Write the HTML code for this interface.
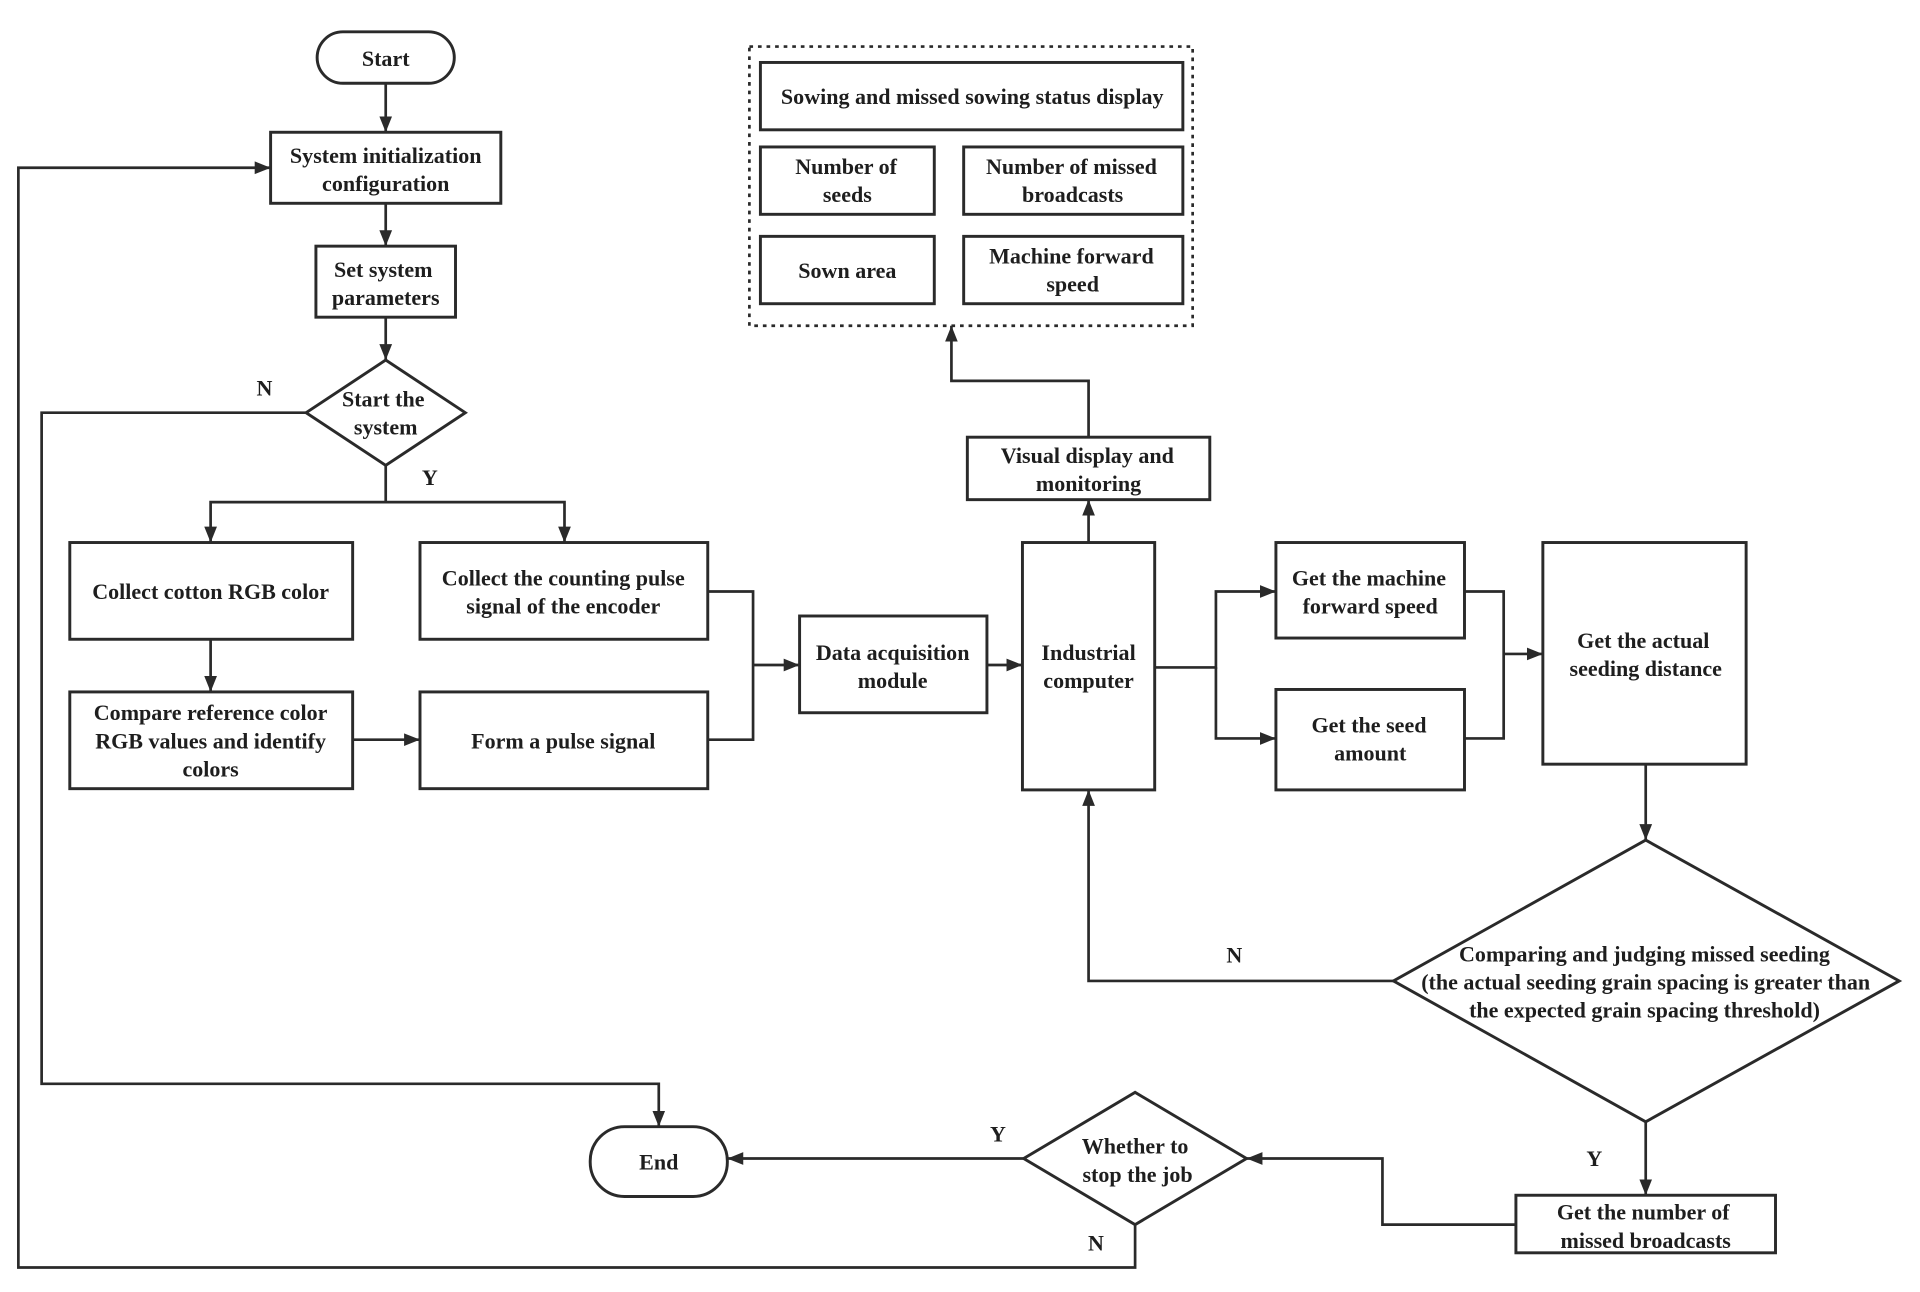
<!DOCTYPE html>
<html><head><meta charset="utf-8"><style>
html,body{margin:0;padding:0;background:#fff;}
svg{display:block;}
text{font-family:"Liberation Serif",serif;font-weight:bold;font-size:18px;fill:#1e1e1e;text-anchor:middle;}
.s{fill:#fff;stroke:#2a2a2a;stroke-width:2.4;}
.l{fill:none;stroke:#2a2a2a;stroke-width:2.2;}
</style></head><body>
<svg width="1920" height="1292" viewBox="0 0 1568 1055" preserveAspectRatio="none" xmlns="http://www.w3.org/2000/svg">
<defs>
<marker id="b" viewBox="0 0 10 10" refX="10" refY="5" markerWidth="13" markerHeight="13" orient="auto" markerUnits="userSpaceOnUse"><path d="M0,1L10,5L0,9z" fill="#2a2a2a"/></marker></defs>
<rect width="1568" height="1055" fill="#fff"/>
<g class="l">
<path d="M315,68V108" marker-end="url(#b)"/>
<path d="M315,166V201" marker-end="url(#b)"/>
<path d="M315,259V294" marker-end="url(#b)"/>
<path d="M315,380V410H172V443" marker-end="url(#b)"/>
<path d="M315,410H461V443" marker-end="url(#b)"/>
<path d="M250,337H34V885H538V920" marker-end="url(#b)"/>
<path d="M172,522V565" marker-end="url(#b)"/>
<path d="M288,604H343" marker-end="url(#b)"/>
<path d="M578,483H615V604H578"/>
<path d="M615,543H653" marker-end="url(#b)"/>
<path d="M806,543H835" marker-end="url(#b)"/>
<path d="M889,443V408" marker-end="url(#b)"/>
<path d="M889,357V311H777V266" marker-end="url(#b)"/>
<path d="M943,545H993V483H1042" marker-end="url(#b)"/>
<path d="M993,545V603H1042" marker-end="url(#b)"/>
<path d="M1196,483H1228V603H1196"/>
<path d="M1228,534H1260" marker-end="url(#b)"/>
<path d="M1344,624V686" marker-end="url(#b)"/>
<path d="M1138,801H889V645" marker-end="url(#b)"/>
<path d="M1344,916V976" marker-end="url(#b)"/>
<path d="M1238,1000H1129V946H1018" marker-end="url(#b)"/>
<path d="M836,946H594" marker-end="url(#b)"/>
<path d="M927,1000V1035H15V137H221" marker-end="url(#b)"/>
</g>
<rect class="s" x="259" y="26" width="112" height="42" rx="21"/>
<text x="315" y="54">Start</text>
<rect class="s" x="221" y="108" width="188" height="58"/>
<text x="315" y="133">System initialization</text><text x="315" y="156">configuration</text>
<rect class="s" x="258" y="201" width="114" height="58"/>
<text x="313" y="226">Set system</text><text x="315" y="249">parameters</text>
<polygon class="s" points="250,337 315,294 380,337 315,380"/>
<text x="313" y="332">Start the</text><text x="315" y="355">system</text>
<text x="216" y="323">N</text><text x="351" y="396">Y</text>
<rect class="s" x="57" y="443" width="231" height="79"/>
<text x="172" y="489">Collect cotton RGB color</text>
<rect class="s" x="343" y="443" width="235" height="79"/>
<text x="460" y="478">Collect the counting pulse</text><text x="460" y="501">signal of the encoder</text>
<rect class="s" x="57" y="565" width="231" height="79"/>
<text x="172" y="588">Compare reference color</text><text x="172" y="611">RGB values and identify</text><text x="172" y="634">colors</text>
<rect class="s" x="343" y="565" width="235" height="79"/>
<text x="460" y="611">Form a pulse signal</text>
<rect class="s" x="653" y="503" width="153" height="79"/>
<text x="729" y="539">Data acquisition</text><text x="729" y="562">module</text>
<rect class="s" x="835" y="443" width="108" height="202"/>
<text x="889" y="539">Industrial</text><text x="889" y="562">computer</text>
<rect class="s" x="790" y="357" width="198" height="51"/>
<text x="888" y="378">Visual display and</text><text x="889" y="401">monitoring</text>
<rect x="612" y="38" width="362" height="228" fill="none" stroke="#2a2a2a" stroke-width="2.2" stroke-dasharray="3,4"/>
<rect class="s" x="621" y="51" width="345" height="55"/>
<text x="794" y="85">Sowing and missed sowing status display</text>
<rect class="s" x="621" y="120" width="142" height="55"/>
<text x="691" y="142">Number of</text><text x="692" y="165">seeds</text>
<rect class="s" x="787" y="120" width="179" height="55"/>
<text x="875" y="142">Number of missed</text><text x="876" y="165">broadcasts</text>
<rect class="s" x="621" y="193" width="142" height="55"/>
<text x="692" y="227">Sown area</text>
<rect class="s" x="787" y="193" width="179" height="55"/>
<text x="875" y="215">Machine forward</text><text x="876" y="238">speed</text>
<rect class="s" x="1042" y="443" width="154" height="78"/>
<text x="1118" y="478">Get the machine</text><text x="1119" y="501">forward speed</text>
<rect class="s" x="1042" y="563" width="154" height="82"/>
<text x="1118" y="598">Get the seed</text><text x="1119" y="621">amount</text>
<rect class="s" x="1260" y="443" width="166" height="181"/>
<text x="1342" y="529">Get the actual</text><text x="1344" y="552">seeding distance</text>
<polygon class="s" points="1138,801 1344,686 1551,801 1344,916"/>
<text x="1343" y="785">Comparing and judging missed seeding</text>
<text x="1344" y="808">(the actual seeding grain spacing is greater than</text>
<text x="1343" y="831">the expected grain spacing threshold)</text>
<text x="1008" y="786">N</text><text x="1302" y="952">Y</text>
<rect class="s" x="1238" y="976" width="212" height="47"/>
<text x="1342" y="996">Get the number of</text><text x="1344" y="1019">missed broadcasts</text>
<polygon class="s" points="836,946 927,892 1018,946 927,1000"/>
<text x="927" y="942">Whether to</text><text x="929" y="965">stop the job</text>
<text x="815" y="932">Y</text><text x="895" y="1021">N</text>
<rect class="s" x="482" y="920" width="112" height="57" rx="28"/>
<text x="538" y="955">End</text>
</svg>
</body></html>
